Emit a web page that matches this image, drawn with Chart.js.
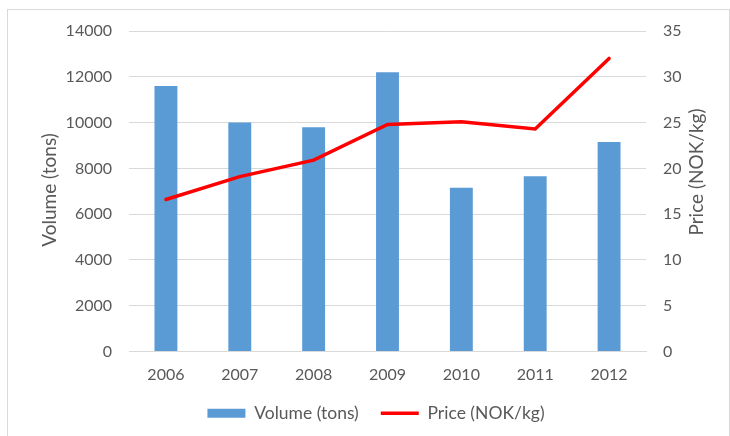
<!DOCTYPE html>
<html lang="en">
  <head>
    <meta charset="UTF-8" />
    <title>Volume and Price</title>
    <script src="https://cdn.jsdelivr.net/npm/chart.js"></script>
    <style>
      body {
        margin: 0;
        padding: 0;
        background: #fff;
      }
      .frame {
        position: absolute;
        left: 7px;
        top: 9px;
        width: 721px;
        height: 440px;
        border: 1px solid #d9d9d9;
      }
      #chart {
        position: absolute;
        left: 0;
        top: 0;
      }
    </style>
  </head>
  <body>
    <div class="frame"></div>
    <canvas id="chart" width="730" height="436"></canvas>

    <script>
      const years = ["2006", "2007", "2008", "2009", "2010", "2011", "2012"];
      const volume = [11600, 10000, 9800, 12200, 7150, 7650, 9150];
      const price = [16.6, 19.1, 20.9, 24.8, 25.1, 24.3, 32.0];

      const textColor = "#595959";
      const gridColor = "#d9d9d9";
      const fontName = "Lato, 'Open Sans', sans-serif";

      // axis titles, both reading bottom-to-top
      const axisTitles = {
        id: "axisTitles",
        afterDraw(chart) {
          const ctx = chart.ctx;
          const drawTitle = (text, x, y) => {
            ctx.save();
            ctx.translate(x, y);
            ctx.rotate(-Math.PI / 2);
            ctx.font = "19px " + fontName;
            ctx.fillStyle = textColor;
            ctx.textAlign = "center";
            ctx.textBaseline = "middle";
            ctx.fillText(text, 0, 0);
            ctx.restore();
          };
          drawTitle("Volume (tons)", 50, 190);
          drawTitle("Price (NOK/kg)", 697, 172);
        },
      };

      const ctx = document.getElementById("chart").getContext("2d");
      new Chart(ctx, {
        type: "bar",
        data: {
          labels: years,
          datasets: [
            {
              label: "Volume (tons)",
              data: volume,
              backgroundColor: "#5b9bd5",
              borderWidth: 0,
              barPercentage: 0.31,
              categoryPercentage: 1,
              yAxisID: "y",
              order: 1,
              pointStyle: "rect",
            },
            {
              type: "line",
              label: "Price (NOK/kg)",
              data: price,
              borderColor: "#ff0000",
              backgroundColor: "#ff0000",
              borderWidth: 3.5,
              borderCapStyle: "round",
              tension: 0,
              pointRadius: 0,
              yAxisID: "y1",
              order: 0,
              pointStyle: "line",
            },
          ],
        },
        options: {
          responsive: false,
          animation: false,
          layout: {
            padding: { left: 22, right: 0, top: 31, bottom: 4 },
          },
          plugins: {
            tooltip: { enabled: false },
            legend: {
              position: "bottom",
              labels: {
                usePointStyle: true,
                pointStyleWidth: 38,
                boxHeight: 9,
                padding: 22,
                color: textColor,
                font: { family: fontName, size: 17.5 },
                sort: (a, b) => a.datasetIndex - b.datasetIndex,
              },
            },
          },
          scales: {
            x: {
              grid: { display: false, drawTicks: false },
              border: { color: gridColor },
              ticks: {
                color: textColor,
                padding: 14,
                font: { family: fontName, size: 16 },
              },
              afterFit(scale) {
                scale.height = 31;
              },
            },
            y: {
              position: "left",
              min: 0,
              max: 14000,
              ticks: {
                stepSize: 2000,
                color: textColor,
                padding: 17,
                font: { family: fontName, size: 16 },
                callback: (v) => String(v),
              },
              grid: { color: gridColor, drawTicks: false },
              border: { display: false },
              afterFit(scale) {
                scale.width = 107;
              },
            },
            y1: {
              position: "right",
              min: 0,
              max: 35,
              ticks: {
                stepSize: 5,
                color: textColor,
                padding: 17,
                font: { family: fontName, size: 16 },
              },
              grid: { drawOnChartArea: false, drawTicks: false },
              border: { display: false },
              afterFit(scale) {
                scale.width = 84;
              },
            },
          },
        },
        plugins: [axisTitles],
      });
    </script>
  </body>
</html>
